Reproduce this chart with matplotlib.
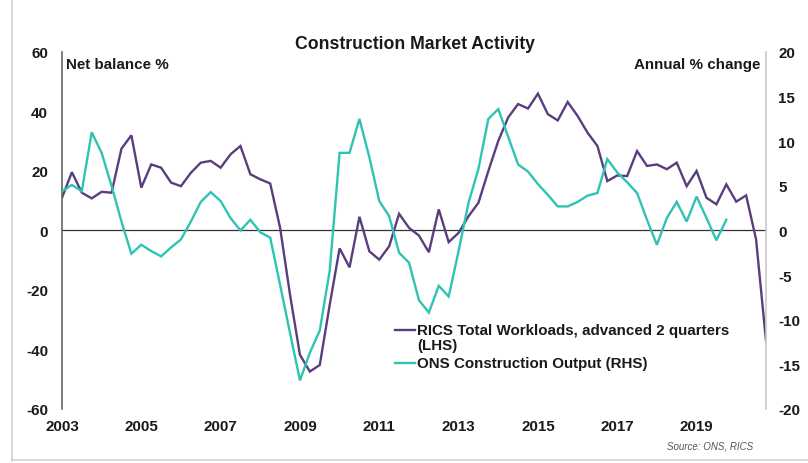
import numpy as np
import matplotlib
matplotlib.use("Agg")
import matplotlib.pyplot as plt
from matplotlib.lines import Line2D

plt.rcParams['font.family'] = ['Liberation Sans', 'DejaVu Sans']
plt.rcParams['axes.unicode_minus'] = False

# quarterly data, 2003 Q1 onwards
start_year = 2003
rics = [11.0, 19.6, 12.7, 10.8,
        13.0, 12.7, 27.5, 32.0,
        14.4, 22.2, 21.1, 16.1,
        14.9, 19.4, 22.8, 23.4,
        21.1, 25.6, 28.4, 18.9,
        17.2, 15.8, 0.9, -21.6,
        -41.8, -47.4, -45.2, -25.0,
        -6.0, -12.4, 4.6, -7.0,
        -9.8, -5.3, 5.6, 0.9,
        -1.7, -7.3, 7.1, -3.9,
        -0.8, 4.8, 9.3, 20.0,
        30.1, 38.0, 42.5, 41.0,
        46.0, 39.1, 37.0, 43.2,
        38.5, 32.9, 28.4, 16.6,
        18.5, 18.3, 26.7, 21.7,
        22.2, 20.6, 22.8, 14.9,
        20.0, 11.0, 8.8, 15.5,
        9.7, 11.8, -3.0, -37.0]

ons = [4.4, 5.1, 4.4, 11.0,
       8.7, 5.0, 1.0, -2.6,
       -1.6, -2.3, -2.9, -1.9,
       -1.0, 1.0, 3.2, 4.3,
       3.3, 1.4, 0.0, 1.2,
       -0.2, -0.8, -6.1, -11.5,
       -16.8, -13.7, -11.2, -4.5,
       8.7, 8.7, 12.5, 8.2,
       3.3, 1.6, -2.5, -3.6,
       -7.8, -9.2, -6.2, -7.4,
       -2.3, 3.1, 6.9, 12.5,
       13.6, 10.5, 7.4, 6.6,
       5.2, 4.0, 2.7, 2.7,
       3.2, 3.9, 4.2, 8.0,
       6.5, 5.4, 4.2, 1.2,
       -1.6, 1.4, 3.2, 1.0,
       3.8, 1.4, -1.1, 1.2]

year_ticks = [2003, 2005, 2007, 2009, 2011, 2013, 2015, 2017, 2019]
left_ticks = [-60, -40, -20, 0, 20, 40, 60]
right_ticks = [-20, -15, -10, -5, 0, 5, 10, 15, 20]

x_rics = start_year + np.arange(len(rics)) / 4
x_ons = start_year + np.arange(len(ons)) / 4

purple = '#5a3d7f'
teal = '#2fc3b3'
txt = '#1a1a1a'
fs = 10.9

fig = plt.figure(figsize=(8.08, 4.64), dpi=100)
ax = fig.add_axes([0.0767, 0.1164, 0.8713, 0.7694])
ax2 = ax.twinx()

ax.plot(x_rics, rics, color=purple, linewidth=1.7, solid_joinstyle='miter')
ax2.plot(x_ons, ons, color=teal, linewidth=1.7, solid_joinstyle='miter')
ax.axhline(0, color='#333333', linewidth=0.9, zorder=1)

ax.set_xlim(start_year, start_year + 17.75)
ax.set_ylim(-60, 60)
ax2.set_ylim(-20, 20)

ax.set_xticks(year_ticks)
ax.set_xticklabels([str(y) for y in year_ticks])
ax.set_yticks(left_ticks)
ax2.set_yticks(right_ticks)

for a in (ax, ax2):
    a.tick_params(length=0, labelsize=fs, colors=txt)
    for lab in a.get_xticklabels() + a.get_yticklabels():
        lab.set_fontweight('bold')
ax.tick_params(axis='y', pad=10)
ax2.tick_params(axis='y', pad=9)
ax.tick_params(axis='x', pad=7)

for s in ('top', 'bottom', 'right'):
    ax.spines[s].set_visible(False)
for s in ('top', 'bottom', 'left'):
    ax2.spines[s].set_visible(False)
ax.spines['left'].set_color('#666666')
ax.spines['left'].set_linewidth(1.2)
ax2.spines['right'].set_color('#c8c8c8')
ax2.spines['right'].set_linewidth(1.2)

fig.text(0.513, 0.905, 'Construction Market Activity', ha='center', va='center',
         fontsize=12.7, fontweight='bold', color=txt)
ax.text(0.006, 0.985, 'Net balance %', transform=ax.transAxes, ha='left', va='top',
        fontsize=fs, fontweight='bold', color=txt)
ax.text(0.992, 0.985, 'Annual % change', transform=ax.transAxes, ha='right', va='top',
        fontsize=fs, fontweight='bold', color=txt)
fig.text(0.879, 0.037, 'Source: ONS, RICS', ha='center', va='center',
         fontsize=7, style='italic', color='#555555')

# legend drawn by hand so the purple key sits on the first text line
leg_x0, leg_x1, leg_tx = 0.473, 0.501, 0.504
ax.add_line(Line2D([leg_x0, leg_x1], [0.221, 0.221], transform=ax.transAxes,
                   color=purple, linewidth=1.7))
ax.text(leg_tx, 0.221, 'RICS Total Workloads, advanced 2 quarters', transform=ax.transAxes,
        ha='left', va='center', fontsize=fs, fontweight='bold', color=txt)
ax.text(leg_tx, 0.179, '(LHS)', transform=ax.transAxes,
        ha='left', va='center', fontsize=fs, fontweight='bold', color=txt)
ax.add_line(Line2D([leg_x0, leg_x1], [0.129, 0.129], transform=ax.transAxes,
                   color=teal, linewidth=1.7))
ax.text(leg_tx, 0.129, 'ONS Construction Output (RHS)', transform=ax.transAxes,
        ha='left', va='center', fontsize=fs, fontweight='bold', color=txt)

# faint frame on the left and bottom, as in the source slide
fig.add_artist(Line2D([0.015, 0.015], [0.005, 1.0], color='#d0d0d0', linewidth=1.2))
fig.add_artist(Line2D([0.015, 1.0], [0.006, 0.006], color='#d0d0d0', linewidth=1.2))

fig.savefig('out.png', dpi=100)
